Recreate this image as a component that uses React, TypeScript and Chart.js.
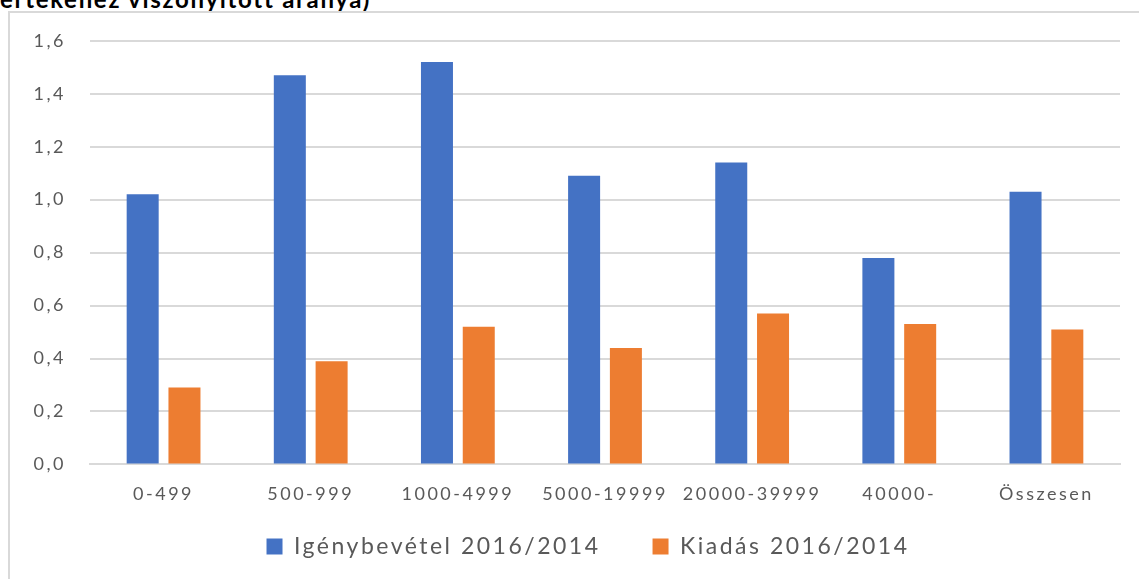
import React, { useEffect, useRef } from "react";
import { Chart, registerables } from "chart.js";

Chart.register(...registerables);

const TITLE_TEXT = "értékéhez viszonyított aránya)";
const categories = ["0-499", "500-999", "1000-4999", "5000-19999", "20000-39999", "40000-", "Összesen"];
const seriesNames = ["Igénybevétel 2016/2014", "Kiadás 2016/2014"];
const igenybevetel = [1.02, 1.47, 1.52, 1.09, 1.14, 0.78, 1.03];
const kiadas = [0.29, 0.39, 0.52, 0.44, 0.57, 0.53, 0.51];
const yMin = 0;
const yMax = 1.6;
const yStep = 0.2;

const FONT = "Lato, 'Open Sans', sans-serif";
const TEXT_COLOR = "#595959";
const GRID_COLOR = "#d9d9d9";
const LS = "2.5px";

const helperPlugin = {
  id: "helper",
  beforeUpdate(chart: any) {
    chart.ctx.letterSpacing = LS;
  },
  beforeLayout(chart: any) {
    chart.ctx.letterSpacing = LS;
  },
  afterLayout(chart: any) {
    const lg = chart.legend;
    if (lg) {
      lg.top -= 41;
      lg.bottom -= 41;
    }
  },
  beforeDraw(chart: any) {
    chart.ctx.letterSpacing = LS;
  },
};

export default function App() {
  const canvasRef = useRef<HTMLCanvasElement | null>(null);

  useEffect(() => {
    const canvas = canvasRef.current;
    if (!canvas) return;
    const chart = new Chart(canvas, {
      type: "bar",
      data: {
        labels: categories,
        datasets: [
          {
            label: seriesNames[0],
            data: igenybevetel,
            backgroundColor: "#4472C4",
            borderWidth: 0,
            categoryPercentage: 0.568,
            barPercentage: 0.766,
          },
          {
            label: seriesNames[1],
            data: kiadas,
            backgroundColor: "#ED7D31",
            borderWidth: 0,
            categoryPercentage: 0.568,
            barPercentage: 0.766,
          },
        ],
      },
      options: {
        responsive: false,
        animation: false,
        devicePixelRatio: 1,
        layout: { padding: { left: 0, right: 0, top: 21, bottom: 3 } },
        plugins: {
          legend: {
            position: "bottom",
            labels: {
              color: TEXT_COLOR,
              font: { family: FONT, size: 23 },
              boxWidth: 16,
              boxHeight: 16,
              padding: 52,
            },
          },
          tooltip: { enabled: false },
        },
        scales: {
          x: {
            grid: { display: false, drawTicks: false },
            border: { display: true, color: GRID_COLOR, width: 2 },
            ticks: {
              color: TEXT_COLOR,
              font: { family: FONT, size: 18 },
              padding: 19,
              maxRotation: 0,
              autoSkip: false,
            },
          },
          y: {
            min: yMin,
            max: yMax,
            grid: { color: GRID_COLOR, lineWidth: 2, drawTicks: false },
            border: { display: false },
            ticks: {
              stepSize: yStep,
              color: TEXT_COLOR,
              font: { family: FONT, size: 18 },
              padding: 24,
              callback: (v: any) => Number(v).toFixed(1).replace(".", ","),
            },
            afterFit(scale: any) {
              scale.width = 80;
            },
          },
          yRight: {
            type: "linear",
            position: "right",
            display: true,
            grid: { display: false, drawTicks: false },
            border: { display: false },
            ticks: { display: false },
            afterFit(scale: any) {
              scale.width = 46;
            },
          },
        },
      },
      plugins: [helperPlugin],
    });
    return () => chart.destroy();
  }, []);

  return (
    <div style={{ position: "fixed", left: 0, top: 0, width: 1139, height: 579, overflow: "hidden", background: "#fff" }}>
      <div
        style={{
          position: "absolute",
          left: 0,
          top: -13,
          fontFamily: FONT,
          fontWeight: 700,
          fontSize: 24,
          lineHeight: "24px",
          letterSpacing: "1.7px",
          color: "#000",
          whiteSpace: "nowrap",
        }}
      >
        {TITLE_TEXT}
      </div>
      <div
        style={{
          position: "absolute",
          left: 8,
          top: 11,
          width: 1200,
          height: 620,
          border: "2px solid #d9d9d9",
          boxSizing: "border-box",
        }}
      >
        <canvas
          ref={canvasRef}
          width={1156}
          height={606}
          style={{ display: "block", width: 1156, height: 606, marginTop: -7 }}
        />
      </div>
    </div>
  );
}
